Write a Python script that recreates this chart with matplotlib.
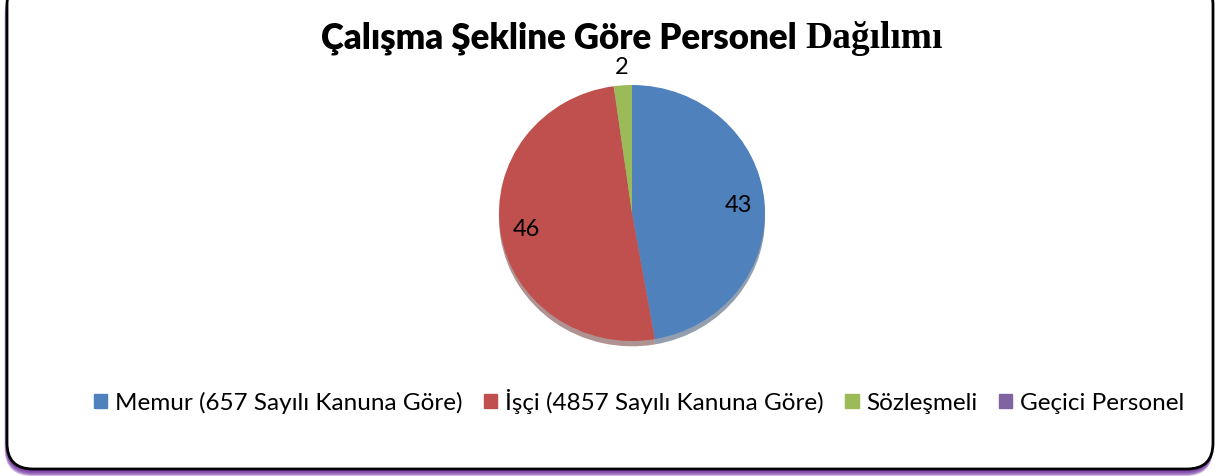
import numpy as np
import matplotlib.pyplot as plt
from matplotlib.patches import FancyBboxPatch

# chart data
categories = ['Memur (657 Sayılı Kanuna Göre)', 'İşçi (4857 Sayılı Kanuna Göre)',
              'Sözleşmeli', 'Geçici Personel']
values = [43, 46, 2, 0]
colors = ['#4f81bd', '#c0504d', '#9bbb59', '#8064a2']

W, H = 1215, 477
SANS = ['Lato', 'DejaVu Sans']

fig = plt.figure(figsize=(W/100, H/100), dpi=100)
fig.patch.set_facecolor('white')

# background axes in pixel units for the frame
bg = fig.add_axes([0, 0, 1, 1])
bg.set_xlim(0, W)
bg.set_ylim(H, 0)
bg.axis('off')

# purple glow under the frame (mostly below the bottom edge)
for i in range(9):
    bg.add_patch(FancyBboxPatch((7 - i*0.3, -20 + i*0.9), 1206 + i*0.3, 490,
                                boxstyle='round,pad=0,rounding_size=28',
                                fc='#7030a0', ec='none', alpha=0.3))
# frame
bg.add_patch(FancyBboxPatch((7, -20), 1206, 490,
                            boxstyle='round,pad=0,rounding_size=26',
                            fc='white', ec='black', lw=2))

# pie (slightly squashed, like the original)
cx, cy, rx, ry = 632, 214, 133, 128
ax = fig.add_axes([(cx-1.2*rx)/W, (H-cy-1.2*ry)/H, 2.4*rx/W, 2.4*ry/H])
wedges, _ = ax.pie(values, colors=colors, startangle=90, counterclock=False,
                   radius=1, wedgeprops={'linewidth': 0},
                   shadow={'ox': 0.0, 'oy': -0.03, 'shade': 0.5})
ax.set_xlim(-1.2, 1.2)
ax.set_ylim(-1.2, 1.2)
ax.set_aspect('auto')
ax.axis('off')

total = sum(values)
for w, v in zip(wedges, values):
    if v == 0:
        continue
    ang = np.deg2rad((w.theta1 + w.theta2)/2)
    d = 0.8 if v/total > 0.05 else 1.15
    ax.text(d*np.cos(ang), d*np.sin(ang), str(v), ha='center', va='center',
            fontsize=17, family=SANS)

# title (mixed fonts as in the original)
ty = 1 - 38/H
t1 = fig.text(0.0, ty, 'Çalışma Şekline Göre Personel ', fontsize=25,
              fontweight='heavy', family=SANS, va='center', ha='left')
t2 = fig.text(0.0, ty, 'Dağılımı', fontsize=27, fontweight='bold',
              family=['Liberation Serif', 'DejaVu Serif'], va='center', ha='left')
fig.canvas.draw()
rend = fig.canvas.get_renderer()
w1 = t1.get_window_extent(rend).width
w2 = t2.get_window_extent(rend).width
x0 = cx - (w1 + w2)/2
t1.set_x(x0/W)
t2.set_x((x0 + w1)/W)

handles = [plt.Rectangle((0, 0), 1, 1, color=c) for c in colors]
fig.legend(handles, categories, loc='center', bbox_to_anchor=(639/W, 1 - 402/H),
           ncol=4, frameon=False, handlelength=0.55, handleheight=0.55,
           handletextpad=0.3, columnspacing=0.9,
           prop={'family': SANS, 'size': 17.5})

fig.savefig('out.png', dpi=100)
